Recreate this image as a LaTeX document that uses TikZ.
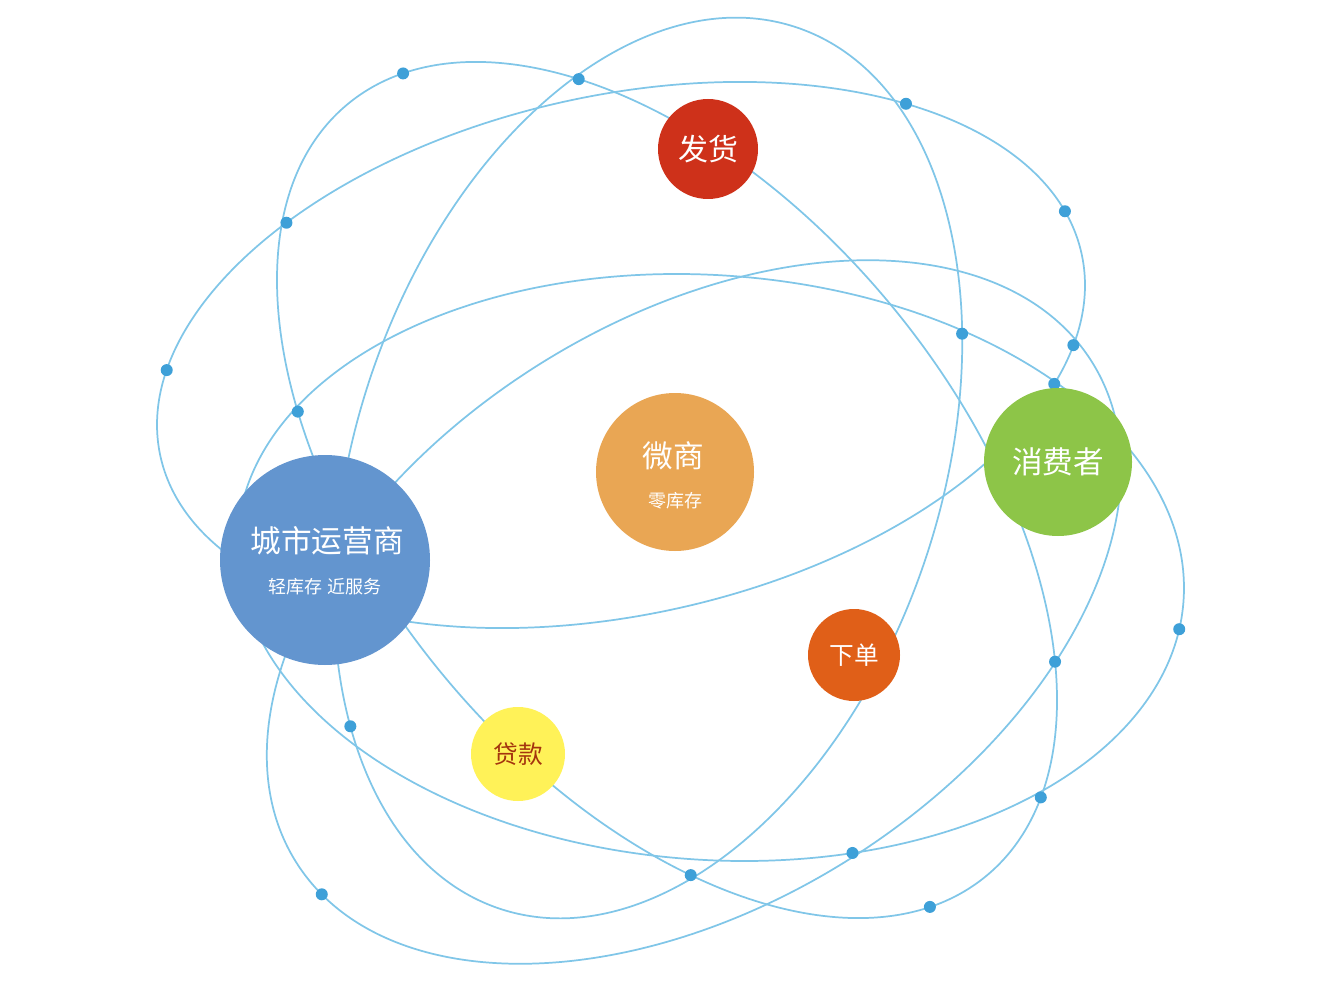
\documentclass[tikz,border=0pt]{standalone}
\usepackage{fontspec}
\setmainfont{Noto Sans CJK SC}
\begin{document}
\begin{tikzpicture}[x=0.75pt,y=-0.75pt]
\definecolor{fillColor}{RGB}{255,255,255}
\path[use as bounding box,fill=fillColor] (0,0) rectangle (1327,991);
\definecolor{orbitColor}{RGB}{128,198,232}
\definecolor{dotColor}{RGB}{62,160,216}
\definecolor{cityColor}{RGB}{99,149,207}
\definecolor{microColor}{RGB}{233,166,84}
\definecolor{consumerColor}{RGB}{141,197,72}
\definecolor{shipColor}{RGB}{206,49,26}
\definecolor{orderColor}{RGB}{224,95,24}
\definecolor{loanColor}{RGB}{255,242,88}
\definecolor{loanText}{RGB}{164,52,14}
\tikzset{
  orbit/.style={draw=orbitColor,line width=1.3pt,line join=round},
  planet/.style={circle,inner sep=0pt,outer sep=0pt,draw=none,text=white},
  caption/.style={text=white,inner sep=0pt,outer sep=0pt,anchor=center}
}

\begin{scope}[shift={(621,355)},rotate=12.4]
\path[orbit] (0,0) ellipse (471.6 and 259.6);
\coordinate (p1) at (198.6:471.6 and 259.6);
\coordinate (p2) at (-10.0:471.6 and 259.6);
\coordinate (p3) at (-129.25:471.6 and 259.6);
\coordinate (p4) at (-45.2:471.6 and 259.6);
\coordinate (p5) at (19.7:471.6 and 259.6);
\coordinate (p6) at (27.85:471.6 and 259.6);
\end{scope}

\begin{scope}[shift={(667,490)},rotate=-50.38]
\path[orbit] (0,0) ellipse (500.9 and 290.5);
\coordinate (q1) at (-167.6:500.9 and 290.5);
\coordinate (q2) at (-138.1:500.9 and 290.5);
\coordinate (q3) at (126.2:500.9 and 290.5);
\coordinate (q4) at (-40.7:500.9 and 290.5);
\coordinate (q5) at (-18.45:500.9 and 290.5);
\coordinate (q6) at (12.6:500.9 and 290.5);
\coordinate (q7) at (51.5:500.9 and 290.5);
\end{scope}

\begin{scope}[shift={(648,468)},rotate=71.3]
\path[orbit] (0,0) ellipse (465 and 292);
\coordinate (t1) at (60.65:465 and 292);
\coordinate (t2) at (-137.0:465 and 292);
\end{scope}

\begin{scope}[shift={(710.5,567.5)},rotate=-4.04]
\path[orbit] (0,0) ellipse (474.2 and 292.3);
\coordinate (w1) at (5.6:474.2 and 292.3);
\coordinate (w2) at (70.06:474.2 and 292.3);
\end{scope}

\begin{scope}[shift={(694,612)},rotate=32.19]
\path[orbit] (0,0) ellipse (470 and 292);
\coordinate (s1) at (172.0:470 and 292);
\end{scope}

\fill[dotColor] (p1) circle[radius=6];
\fill[dotColor] (p2) circle[radius=6];
\fill[dotColor] (p3) circle[radius=6];
\fill[dotColor] (p4) circle[radius=6];
\fill[dotColor] (p5) circle[radius=6];
\fill[dotColor] (p6) circle[radius=6];
\fill[dotColor] (q1) circle[radius=6];
\fill[dotColor] (q2) circle[radius=6];
\fill[dotColor] (q3) circle[radius=6];
\fill[dotColor] (q4) circle[radius=6];
\fill[dotColor] (q5) circle[radius=6];
\fill[dotColor] (q6) circle[radius=6];
\fill[dotColor] (q7) circle[radius=6];
\fill[dotColor] (t1) circle[radius=6];
\fill[dotColor] (t2) circle[radius=6];
\fill[dotColor] (w1) circle[radius=6];
\fill[dotColor] (w2) circle[radius=6];
\fill[dotColor] (s1) circle[radius=6];

\node[planet,fill=cityColor,minimum size=157.5pt] (city) at (325,560) {};
\node[caption,font=\fontsize{23}{23}\selectfont] (cityName) at (327,541) {城市运营商};
\node[caption,font=\fontsize{13.5}{13.5}\selectfont] (cityNote) at (325,587) {轻库存 近服务};

\node[planet,fill=microColor,minimum size=118.5pt] (micro) at (675,472) {};
\node[caption,font=\fontsize{23}{23}\selectfont] (microName) at (673,456) {微商};
\node[caption,font=\fontsize{13.5}{13.5}\selectfont] (microNote) at (675,501) {零库存};

\node[planet,fill=consumerColor,minimum size=111pt,font=\fontsize{23}{23}\selectfont] (consumer) at (1058,462) {消费者};

\node[planet,fill=shipColor,minimum size=75pt,font=\fontsize{22.5}{22.5}\selectfont] (ship) at (708,149) {发货};

\node[planet,fill=orderColor,minimum size=69pt,font=\fontsize{18.5}{18.5}\selectfont] (order) at (854,655) {下单};

\node[planet,fill=loanColor,text=loanText,minimum size=70.5pt,font=\fontsize{18.5}{18.5}\selectfont] (loan) at (518,754) {贷款};
\end{tikzpicture}
\end{document}
